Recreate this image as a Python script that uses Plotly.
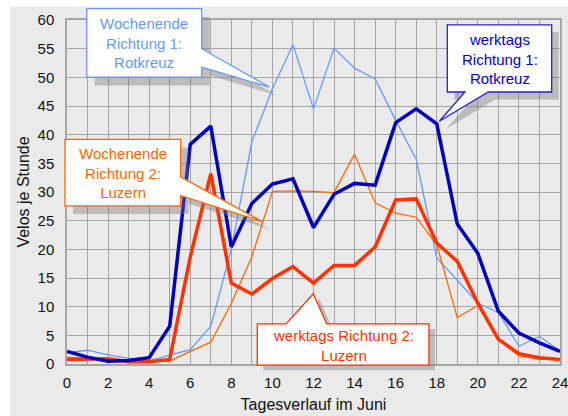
import plotly.graph_objects as go

hours = list(range(25))
werktags_r1 = [2.2, 1.2, 0.5, 0.6, 1.1, 6.6, 38.3, 41.5, 20.4, 28.0, 31.4, 32.3, 23.8, 29.6, 31.5, 31.2,
               42.1, 44.5, 41.9, 24.4, 19.3, 9.2, 5.4, 3.7, 2.2]
wochenende_r1 = [2.0, 2.4, 1.6, 1.0, 0.6, 1.5, 2.5, 6.6, 20.0, 38.8, 48.0, 55.7, 44.5, 55.1, 51.6, 49.7,
                 42.5, 35.7, 18.5, 14.6, 10.6, 9.0, 3.1, 4.8, 2.3]
werktags_r2 = [0.8, 0.8, 0.9, 0.4, 0.4, 0.8, 18.7, 33.2, 14.1, 12.2, 14.9, 17.0, 14.1, 17.2, 17.2, 20.4,
               28.6, 28.8, 21.1, 17.9, 10.6, 4.3, 1.8, 1.1, 0.8]
wochenende_r2 = [1.2, 1.0, 0.7, 0.5, 0.5, 0.5, 2.2, 3.8, 10.6, 18.7, 30.1, 30.2, 30.1, 29.9, 36.6, 28.1,
                 26.3, 25.6, 20.8, 8.1, 10.2, 4.2, 1.4, 0.8, 0.8]

x_ticks = list(range(0, 25, 2))
y_ticks = list(range(0, 61, 5))

W, H = 568, 416
# plot area in page pixels: x 67..560, y 19.5..364.5
L = 67
R = W - 560
T = 19.5
B = H - 364.5
PW, PH = W - L - R, H - T - B
FONT = "Liberation Sans, Arial, sans-serif"
GRID = "#A6A6A6"
BG = "#EAEAEA"


def px(x):
    # page pixel x -> paper coordinate
    return (x - L) / PW


def py(y):
    # page pixel y -> paper coordinate
    return (H - B - y) / PH


fig = go.Figure()
series = [
    ("Wochenende Richtung 1: Rotkreuz", wochenende_r1, "#6699FF", 1.3),
    ("Wochenende Richtung 2: Luzern", wochenende_r2, "#FF6600", 1.3),
    ("werktags Richtung 2: Luzern", werktags_r2, "#FF3300", 3.5),
    ("werktags Richtung 1: Rotkreuz", werktags_r1, "#0000C0", 3.5),
]
for name, vals, col, w in series:
    fig.add_trace(go.Scatter(x=hours, y=vals, mode="lines", name=name,
                             line=dict(color=col, width=w), showlegend=False, hoverinfo="skip"))

shapes = []
# grey panel behind the chart, white strips at the top and left page edges
shapes.append(dict(type="rect", xref="paper", yref="paper", x0=px(10), x1=px(W + 5),
                   y0=py(H + 5), y1=py(6), fillcolor=BG, line=dict(width=0), layer="below"))


def path_of(pts):
    return "M " + " L ".join(f"{px(a):.5f},{py(b):.5f}" for a, b in pts) + " Z"


def callout(pts, border, shadow_off):
    dx, dy = shadow_off
    sh = [(a + dx, b + dy) for a, b in pts]
    shapes.append(dict(type="path", xref="paper", yref="paper", path=path_of(sh),
                       fillcolor="rgba(120,120,120,0.4)", line=dict(width=0), layer="above"))
    shapes.append(dict(type="path", xref="paper", yref="paper", path=path_of(pts),
                       fillcolor="white", line=dict(color=border, width=1.3), layer="above"))


# Box 1: Wochenende Richtung 1 (tail on right edge)
callout([(86.7, 8), (201.7, 8), (201.7, 48.3), (269.3, 86.7), (201.7, 66.7), (201.7, 76.7), (86.7, 76.7)],
        "#6699FF", (8, 8.5))
# Box 2: Wochenende Richtung 2 (tail on right edge)
callout([(65, 139.3), (180.7, 139.3), (180.7, 176.7), (262.3, 221.7), (180.7, 195.7), (180.7, 206), (65, 206)],
        "#FF6600", (8, 8))
# Box 3: werktags Richtung 1 (tail on bottom edge)
callout([(447.3, 24.3), (551.7, 24.3), (551.7, 91.7), (488.3, 91.7), (439.3, 121), (465, 91.7), (447.3, 91.7)],
        "#2222CC", (7, 7.5))
# Box 4: werktags Richtung 2 (tail on top edge)
callout([(257.3, 324.3), (286, 324.3), (313.3, 294), (326.7, 324.3), (429, 324.3), (429, 365.7), (257.3, 365.7)],
        "#FF3300", (6, 5))

annotations = []


def label(text, cx, cy, col):
    annotations.append(dict(text=text, xref="paper", yref="paper", x=px(cx), y=py(cy),
                            xanchor="center", yanchor="middle", showarrow=False,
                            font=dict(family=FONT, size=15, color=col)))


label("Wochenende<br>Richtung 1:<br>Rotkreuz", 144.2, 43, "#6699FF")
label("Wochenende<br>Richtung 2:<br>Luzern", 122.8, 173, "#FF6600")
label("werktags<br>Richtung 1:<br>Rotkreuz", 499.5, 58.5, "#0000CC")
label("werktags Richtung 2:<br>Luzern", 343, 346, "#FF3300")

fig.update_layout(
    width=W, height=H,
    margin=dict(l=L, r=R, t=T, b=B, pad=0),
    paper_bgcolor="white", plot_bgcolor=BG,
    font=dict(family=FONT, size=15, color="#111111"),
    shapes=shapes, annotations=annotations,
    hovermode=False,
    xaxis=dict(range=[0, 24], tickvals=x_ticks, ticktext=[str(v) for v in x_ticks],
               automargin=False, ticklabeloverflow="allow",
               showgrid=False, zeroline=False, showline=True, linecolor=GRID, linewidth=1.5,
               mirror=True, ticks="", ticklabelstandoff=4, tickfont=dict(size=15),
               minor=dict(dtick=1, tick0=0, showgrid=True, gridcolor=GRID, gridwidth=1),
               title=dict(text="Tagesverlauf im Juni", font=dict(size=16), standoff=9)),
    yaxis=dict(range=[0, 60], tickvals=y_ticks, ticktext=[str(v) for v in y_ticks],
               automargin=False, ticklabeloverflow="allow",
               showgrid=True, gridcolor=GRID, gridwidth=1, zeroline=False,
               showline=True, linecolor=GRID, linewidth=1.5, mirror=True,
               ticks="", ticklabelstandoff=8,
               title=dict(text="Velos je Stunde", font=dict(size=16), standoff=4)),
)

fig.write_html("out.html", config={"displayModeBar": False},
               post_script="document.body.style.margin='0';document.body.style.overflow='hidden';")
